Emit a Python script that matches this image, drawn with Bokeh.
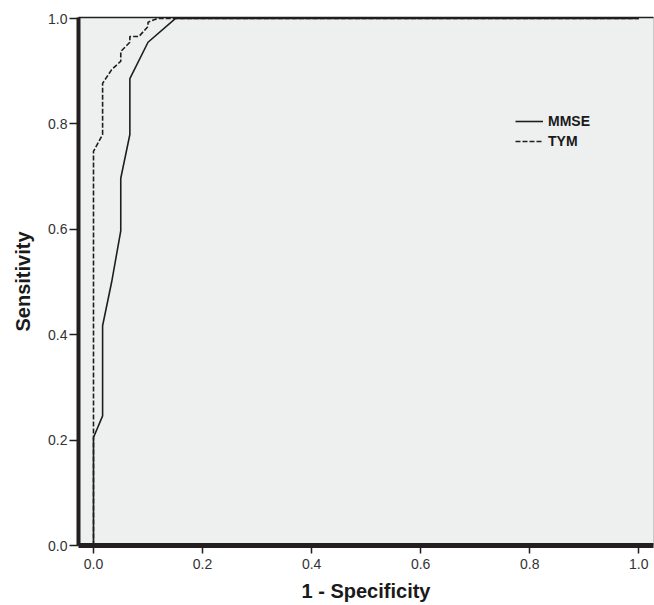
from bokeh.plotting import figure
from bokeh.models import (Range1d, FixedTicker, PrintfTickFormatter, LinearAxis,
                          Legend, LegendItem)
from bokeh.embed import file_html
from bokeh.resources import INLINE

# ROC data
mmse_fpr = [0, 0, 0.0167, 0.0167, 0.0333, 0.05, 0.05, 0.0667, 0.0667, 0.1, 0.15, 1.0]
mmse_tpr = [0, 0.205, 0.246, 0.417, 0.50, 0.597, 0.697, 0.78, 0.886, 0.955, 1.0, 1.0]
tym_fpr = [0, 0, 0.0167, 0.0167, 0.0333, 0.05, 0.05, 0.0667, 0.0667, 0.0833, 0.1, 0.1, 0.117, 1.0]
tym_tpr = [0, 0.748, 0.78, 0.877, 0.903, 0.919, 0.9375, 0.955, 0.966, 0.966, 0.985, 0.993, 1.0, 1.0]
ticks = [0.0, 0.2, 0.4, 0.6, 0.8, 1.0]

W, H = 654, 605
p = figure(width=W, height=H, output_backend="svg", toolbar_location=None,
           x_range=Range1d(-0.0275, 1.027), y_range=Range1d(0.0, 1.002),
           min_border_left=78, min_border_right=1, min_border_top=17,
           min_border_bottom=60)

p.border_fill_color = "white"
p.background_fill_color = "#eef0ef"
p.outline_line_color = "#c8c8c8"
p.outline_line_width = 1
p.xgrid.visible = False
p.ygrid.visible = False

axc = "#231f20"
for ax in (p.xaxis[0], p.yaxis[0]):
    ax.ticker = FixedTicker(ticks=ticks)
    ax.formatter = PrintfTickFormatter(format="%.1f")
    ax.axis_line_color = axc
    ax.major_tick_line_color = axc
    ax.major_tick_line_width = 1.5
    ax.major_tick_in = 0
    ax.minor_tick_line_color = None
    ax.major_label_text_font = "Liberation Sans"
    ax.major_label_text_font_size = "14px"
    ax.major_label_text_color = "#333333"
    ax.axis_label_text_font = "Liberation Sans"
    ax.axis_label_text_font_style = "bold"
    ax.axis_label_text_font_size = "20px"
    ax.axis_label_text_color = "#1a1a1a"

p.xaxis.axis_label = "1 - Specificity"
p.yaxis.axis_label = "Sensitivity"
p.xaxis.axis_line_width = 5
p.yaxis.axis_line_width = 4
p.xaxis.major_tick_out = 8
p.yaxis.major_tick_out = 9
p.xaxis.major_label_standoff = 5
p.yaxis.major_label_standoff = 2
p.xaxis.axis_label_standoff = 8
p.yaxis.axis_label_standoff = 11

top = LinearAxis(axis_line_color=axc, axis_line_width=1.5,
                 major_tick_line_color=None, minor_tick_line_color=None,
                 major_label_text_font_size="0px", major_label_text_alpha=0)
p.add_layout(top, "above")

lc = "#1e1e1e"
r1 = p.line(mmse_fpr, mmse_tpr, line_color=lc, line_width=1.6)
r2 = p.line(tym_fpr, tym_tpr, line_color=lc, line_width=1.6, line_dash="5 2")

legend = Legend(items=[LegendItem(label="MMSE", renderers=[r1]),
                       LegendItem(label="TYM", renderers=[r2])],
                location=(437, 394))
legend.padding = 0
legend.margin = 0
legend.spacing = 0
legend.glyph_width = 28
legend.glyph_height = 20
legend.label_height = 20
legend.label_standoff = 5
legend.background_fill_alpha = 0
legend.border_line_alpha = 0
legend.label_text_font = "Liberation Sans"
legend.label_text_font_style = "bold"
legend.label_text_font_size = "14px"
legend.label_text_color = "#1a1a1a"
p.add_layout(legend, "center")

open("out.html", "w").write(file_html(p, INLINE))
